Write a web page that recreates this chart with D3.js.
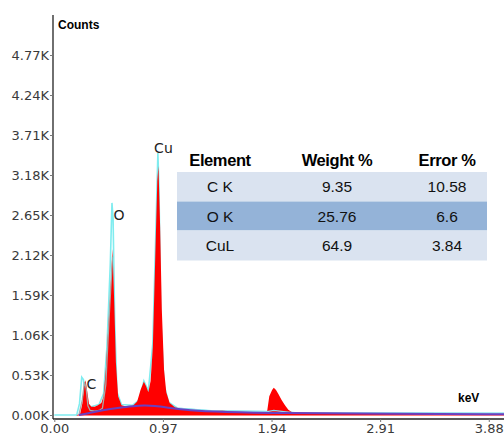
<!DOCTYPE html>
<html><head><meta charset="utf-8">
<script src="https://cdn.jsdelivr.net/npm/d3@7"></script>
<style>
html,body{margin:0;padding:0;background:#fff;}
svg{display:block;}
</style></head>
<body>
<script>
// ---- data ----
const specKeV   = [0.20,0.23,0.25,0.265,0.28,0.295,0.31,0.33,0.36,0.39,0.42,0.44,0.46,0.48,0.50,0.52,0.535,0.55,0.57,0.60,0.65,0.70,0.74,0.77,0.80,0.82,0.84,0.86,0.88,0.90,0.92,0.93,0.945,0.96,0.98,1.00,1.03,1.08,1.15,1.25,1.40,1.50,1.60,1.70,1.85,1.90,1.92,1.945,1.96,1.98,2.00,2.03,2.06,2.09,2.12,2.30,2.60,3.00,3.50,4.02];
const specCounts= [0,10,150,380,460,300,150,110,110,130,160,250,600,1100,1600,2200,1500,700,250,130,110,120,180,330,440,380,300,450,900,2000,3100,3300,2500,1400,600,300,160,100,80,60,50,60,45,40,35,40,250,330,360,330,280,200,130,70,40,30,25,20,18,15];

const cyanKeV   = [0.00,0.20,0.225,0.245,0.26,0.275,0.29,0.31,0.33,0.40,0.44,0.47,0.50,0.515,0.525,0.54,0.56,0.60,0.70,0.76,0.80,0.84,0.88,0.91,0.925,0.935,0.95,0.98,1.02,1.10,1.40,1.90,1.96,2.05,2.15,3.00,4.02];
const cyanCounts= [0,0,150,500,470,300,180,120,110,140,280,900,2000,2810,2600,1200,300,140,130,200,450,320,950,2600,3470,3000,1300,400,170,90,55,45,60,45,30,25,22];

const fitKeV    = [0.22,0.25,0.27,0.285,0.30,0.32,0.36,0.40,0.43,0.46,0.49,0.52];
const fitCounts = [0,200,440,350,120,60,50,60,90,400,1300,2100];

const bgKeV     = [0.22,0.30,0.40,0.50,0.60,0.70,0.80,0.90,1.00,1.20,1.50,2.00,3.00,4.02];
const bgCounts  = [0,20,55,80,100,115,130,120,100,60,40,25,15,10];

const yTickValues = [0,530,1060,1590,2120,2650,3180,3710,4240,4770];
const yTickLabels = ["0.00K","0.53K","1.06K","1.59K","2.12K","2.65K","3.18K","3.71K","4.24K","4.77K"];
const xTickValues = [0,0.97,1.94,2.91,3.88];
const xTickLabels = ["0.00","0.97","1.94","2.91","3.88"];

const peakNames = ["C","O","Cu"];
const peakKeV   = [0.277,0.525,0.93];
const peakCounts= [500,2810,3470];

const tableHeader = ["Element","Weight %","Error %"];
const tableElements = ["C K","O K","CuL"];
const tableWeight = ["9.35","25.76","64.9"];
const tableError  = ["10.58","6.6","3.84"];

// ---- drawing ----
const W = 504, H = 439;
const svg = d3.select("body").append("svg").attr("width", W).attr("height", H);

const x = d3.scaleLinear().domain([0, 4.016]).range([54.3, 504]);
const y = d3.scaleLinear().domain([0, 5300]).range([415, 15]);

const spec = specKeV.map((k,i)=>({k, c:specCounts[i]}));
const cyan = cyanKeV.map((k,i)=>({k, c:cyanCounts[i]}));
const fit  = fitKeV.map((k,i)=>({k, c:fitCounts[i]}));
const bg   = bgKeV.map((k,i)=>({k, c:bgCounts[i]}));

const line = d3.line().x(d=>x(d.k)).y(d=>y(d.c));

// cyan outline (behind)
svg.append("path").datum(cyan).attr("d", line)
  .attr("fill","none").attr("stroke","#7fecef").attr("stroke-width",1.6);

// red spectrum area
svg.append("path").datum(spec)
  .attr("d", d3.area().x(d=>x(d.k)).y0(y(0)+0.5).y1(d=>y(d.c)))
  .attr("fill","#ff0000");

// gray fit line
svg.append("path").datum(fit).attr("d", line)
  .attr("fill","none").attr("stroke","#a8a8a8").attr("stroke-width",1.3);

// cyan baseline
svg.append("path").datum(cyan.filter(d=>d.k>=1.1)).attr("d", line)
  .attr("fill","none").attr("stroke","#8fd8ee").attr("stroke-width",1.2);

// background (purple)
svg.append("path").datum(bg).attr("d", d3.line().x(d=>x(d.k)).y(d=>y(d.c)).curve(d3.curveBasis))
  .attr("fill","none").attr("stroke","#6a40c0").attr("stroke-width",2);

// axes
const axisColor = "#222";
svg.append("line").attr("x1",53).attr("x2",53).attr("y1",15).attr("y2",419)
  .attr("stroke",axisColor).attr("stroke-width",1.3);
svg.append("line").attr("x1",53).attr("x2",504).attr("y1",419).attr("y2",419)
  .attr("stroke",axisColor).attr("stroke-width",1.3);

const yAxis = d3.axisLeft(y).tickValues(yTickValues)
  .tickFormat((d,i)=>yTickLabels[i]).tickSize(3).tickPadding(1);
const gy = svg.append("g").attr("transform","translate(53,0)").call(yAxis);
gy.select(".domain").remove();
gy.selectAll("text").attr("font-family","DejaVu Sans").attr("font-size",13).attr("fill","#3a3a3a");
gy.selectAll("line").attr("stroke","#777");

const xAxis = d3.axisBottom(x).tickValues(xTickValues)
  .tickFormat((d,i)=>xTickLabels[i]).tickSize(3).tickPadding(2);
const gx = svg.append("g").attr("transform","translate(0,419)").call(xAxis);
gx.select(".domain").remove();
gx.selectAll("text").attr("font-family","DejaVu Sans").attr("font-size",13).attr("fill","#3a3a3a");
gx.selectAll("line").attr("stroke","#777");

svg.append("text").attr("x",58).attr("y",29).text("Counts")
  .attr("font-family","Liberation Sans, Arial").attr("font-weight","bold").attr("font-size",12).attr("fill","#000");
svg.append("text").attr("x",458).attr("y",402).text("keV")
  .attr("font-family","Liberation Sans, Arial").attr("font-weight","bold").attr("font-size",12).attr("fill","#000");

// peak labels
peakNames.forEach((n,i)=>{
  const dx = [6, 6, 5][i], dy = [12, 17, 0][i];
  svg.append("text").attr("x", x(peakKeV[i]) + dx).attr("y", y(peakCounts[i]) + dy)
    .attr("text-anchor","middle").attr("font-family","DejaVu Sans").attr("font-size",14)
    .attr("fill","#222").text(n);
});

// table
const tx0 = 177, tx1 = 487;
const rowTop = [172, 201.5, 230.5], rowH = [29.5, 29, 30];
const rowFill = ["#dae3f0","#94b3d8","#dae3f0"];
const colX = [220, 337, 447];
rowTop.forEach((t,i)=>{
  svg.append("rect").attr("x",tx0).attr("y",t).attr("width",tx1-tx0).attr("height",rowH[i]).attr("fill",rowFill[i]);
});
tableHeader.forEach((h,j)=>{
  svg.append("text").attr("x",colX[j]).attr("y",165.5).attr("text-anchor","middle")
    .attr("font-family","Liberation Sans, Arial").attr("font-weight","bold").attr("font-size",16.5)
    .attr("letter-spacing","-0.4").attr("fill","#000").text(h);
});
const rows = tableElements.map((e,i)=>[e, tableWeight[i], tableError[i]]);
rows.forEach((r,i)=>{
  r.forEach((v,j)=>{
    svg.append("text").attr("x",colX[j]).attr("y",rowTop[i]+rowH[i]/2+5.5).attr("text-anchor","middle")
      .attr("font-family","Liberation Sans, Arial").attr("font-size",15.5).attr("fill","#111").text(v);
  });
});
</script>
</body></html>
